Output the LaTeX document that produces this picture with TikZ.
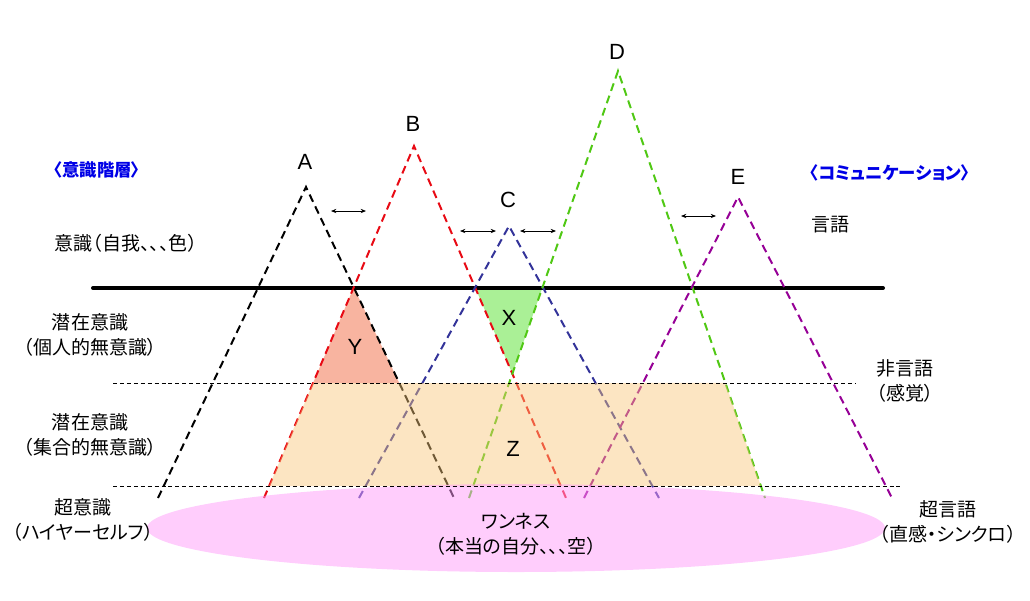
\documentclass[tikz,border=0pt]{standalone}
\usepackage{fontspec}
\setmainfont{Liberation Sans}
\newfontfamily\jp[RawFeature=+palt]{Noto Sans CJK JP}
\usetikzlibrary{arrows.meta}
\definecolor{cA}{RGB}{0,0,0}
\definecolor{cB}{RGB}{232,10,20}
\definecolor{cC}{RGB}{51,51,153}
\definecolor{cD}{RGB}{80,200,20}
\definecolor{cE}{RGB}{150,0,150}
\definecolor{fillY}{RGB}{248,180,160}
\definecolor{fillX}{RGB}{170,240,150}
\definecolor{fillZ}{RGB}{248,198,120}
\definecolor{pinkE}{RGB}{255,155,250}
\definecolor{lblue}{RGB}{0,0,230}
\begin{document}
\begin{tikzpicture}[x=0.75pt,y=-0.75pt,
  leg/.style={line width=1.5pt, dash pattern=on 6pt off 3.8pt},
  thinline/.style={line width=0.75pt, dash pattern=on 3pt off 2.2pt},
  baseline/.style={line width=3pt, line cap=round},
  gap/.style={line width=0.6pt, {Stealth[length=4pt,width=3.2pt]}-{Stealth[length=4pt,width=3.2pt]}},
  letter/.style={font=\fontsize{16.5pt}{18pt}\selectfont},
  jtext/.style={font=\jp\fontsize{14.25pt}{18.75pt}\selectfont, align=center},
  btext/.style={font=\jp\bfseries\fontsize{13pt}{15pt}\selectfont, text=lblue}]
\useasboundingbox (0,0) rectangle (1030,600);

% geometry
\coordinate (Aa) at (306,187); \coordinate (Al) at (158,498); \coordinate (Ar) at (454,498);
\coordinate (Ba) at (414,146); \coordinate (Bl) at (264,498); \coordinate (Br) at (566,498);
\coordinate (Ca) at (509,226); \coordinate (Cl) at (359,498); \coordinate (Cr) at (659,498);
\coordinate (Da) at (618,71);  \coordinate (Dl) at (469,498); \coordinate (Dr) at (765,498);
\coordinate (Ea) at (738,197); \coordinate (El) at (584,498); \coordinate (Er) at (892,498);
\coordinate (h0L) at (0,288); \coordinate (h0R) at (1000,288);
\coordinate (h1L) at (0,383); \coordinate (h1R) at (1000,383);
\coordinate (h2L) at (0,486); \coordinate (h2R) at (1000,486);

% Y and X regions
\fill[fillY] (intersection of Aa--Ar and Ba--Bl) -- (intersection of Ba--Bl and h1L--h1R)
  -- (intersection of Aa--Ar and h1L--h1R) -- cycle;
\fill[fillX] (intersection of Ba--Br and h0L--h0R) -- (intersection of Da--Dl and h0L--h0R)
  -- (intersection of Ba--Br and Da--Dl) -- cycle;

% thick border line
\coordinate (T1) at (93,288); \coordinate (T2) at (883,288);
\draw[baseline] (T1) -- (T2);

% triangles
\draw[leg, cA] (Al) -- (Aa) -- (Ar);
\draw[leg, cB] (Bl) -- (Ba) -- (Br);
\draw[leg, cC] (Cl) -- (Ca) -- (Cr);
\draw[leg, cD] (Dl) -- (Da) -- (Dr);
\draw[leg, cE] (El) -- (Ea) -- (Er);

% Z region
\fill[fillZ, opacity=0.45] (intersection of Ba--Bl and h1L--h1R) -- (intersection of Da--Dr and h1L--h1R)
  -- (intersection of Da--Dr and h2L--h2R) -- (intersection of Ba--Bl and h2L--h2R) -- cycle;

% oneness ellipse
\fill[pinkE, opacity=0.5] (516,528) ellipse [x radius=276.75pt, y radius=33pt];

% thin dashed separators
\coordinate (S1a) at (113,383); \coordinate (S1b) at (856,383);
\coordinate (S2a) at (113,486); \coordinate (S2b) at (900,486);
\draw[thinline] (S1a) -- (S1b);
\draw[thinline] (S2a) -- (S2b);

% arrows between peaks
\coordinate (g1a) at (331,211); \coordinate (g1b) at (366,211);
\coordinate (g2a) at (460,231); \coordinate (g2b) at (496,231);
\coordinate (g3a) at (520,231); \coordinate (g3b) at (556,231);
\coordinate (g4a) at (681,216); \coordinate (g4b) at (716,216);
\draw[gap] (g1a) -- (g1b);
\draw[gap] (g2a) -- (g2b);
\draw[gap] (g3a) -- (g3b);
\draw[gap] (g4a) -- (g4b);

% peak labels
\node[letter] (lA) at (305,162) {A};
\node[letter] (lB) at (413,124) {B};
\node[letter] (lC) at (508,200) {C};
\node[letter] (lD) at (617,52) {D};
\node[letter] (lE) at (738,177) {E};
\node[letter] (lX) at (509,318) {X};
\node[letter] (lY) at (355,347) {Y};
\node[letter] (lZ) at (513,449) {Z};

% left labels
\node[btext] (hL) at (97,170) {〈意識階層〉};
\node[jtext] (t1) at (126,243) {意識（自我、、、色）};
\node[jtext] (t2) at (90,335) {潜在意識\\（個人的無意識）};
\node[jtext] (t3) at (90,435) {潜在意識\\（集合的無意識）};
\node[jtext] (t4) at (83,520) {超意識\\（ハイヤーセルフ）};
\node[jtext] (t5) at (516,534) {ワンネス\\（本当の自分、、、空）};

% right labels
\node[btext] (hR) at (890,173) {〈コミュニケーション〉};
\node[jtext] (r1) at (830,225) {言語};
\node[jtext] (r2) at (905,381) {非言語\\（感覚）};
\node[jtext] (r3) at (948,522) {超言語\\（直感・シンクロ）};
\end{tikzpicture}
\end{document}
